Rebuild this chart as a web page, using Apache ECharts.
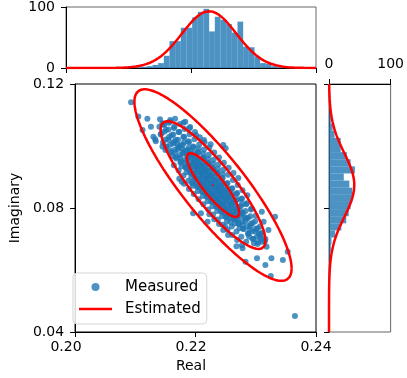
<!DOCTYPE html>
<html>
<head>
<meta charset="utf-8">
<script src="https://cdn.jsdelivr.net/npm/echarts@6/dist/echarts.min.js"></script>
<style>
html, body { margin: 0; padding: 0; background: #fff; }
#chart { width: 407px; height: 378px; }
</style>
</head>
<body>
<div id="chart"></div>
<script>
// measured points [Real, Imaginary]
var measured = [
  [0.2093,0.1141],[0.2105,0.1095],[0.2120,0.1088],[0.2112,0.1052],[0.2126,0.1062],[0.2133,0.1022],[0.2134,0.1015],
  [0.2145,0.1073],[0.2158,0.1084],[0.2180,0.1075],[0.2150,0.0987],[0.2225,0.1006],[0.2246,0.1003],[0.2177,0.0885],
  [0.2196,0.0783],[0.2209,0.0783],[0.2220,0.0756],[0.2246,0.0729],[0.2254,0.0713],[0.2268,0.0677],[0.2278,0.0670],
  [0.2310,0.0788],[0.2313,0.0756],[0.2321,0.0729],[0.2305,0.0718],[0.2332,0.0772],[0.2283,0.0627],[0.2302,0.0638],
  [0.2316,0.0616],[0.2326,0.0638],[0.2325,0.0581],[0.2353,0.0659],[0.2345,0.0632],[0.2365,0.0452],
  [0.2190,0.1057],[0.2201,0.1035],[0.2214,0.1019],[0.2250,0.0993],[0.2145,0.0998],[0.2130,0.1030],
  [0.2297,0.0686],[0.2249,0.0740],[0.2289,0.0707],[0.2310,0.0701],[0.2268,0.0761],
  [0.2143,0.1040],[0.2148,0.1068],[0.2146,0.1011],
  [0.2151,0.1052],[0.2155,0.1020],[0.2152,0.0998],[0.2156,0.1075],
  [0.2160,0.1035],[0.2163,0.1008],[0.2159,0.0985],[0.2164,0.1058],[0.2162,0.0968],
  [0.2167,0.1020],[0.2171,0.0990],[0.2168,0.0960],[0.2172,0.1045],[0.2170,0.1005],[0.2166,0.0978],
  [0.2175,0.1002],[0.2179,0.0975],[0.2176,0.0950],[0.2180,0.1030],[0.2178,0.0990],[0.2174,0.0962],[0.2181,0.1012],[0.2177,0.0935],
  [0.2183,0.0985],[0.2187,0.0958],[0.2184,0.0932],[0.2188,0.1015],[0.2186,0.0970],[0.2182,0.0945],[0.2189,0.0995],[0.2185,0.0915],[0.2187,0.0940],
  [0.2191,0.0968],[0.2195,0.0942],[0.2192,0.0915],[0.2196,0.0998],[0.2194,0.0955],[0.2190,0.0928],[0.2197,0.0978],[0.2193,0.0900],[0.2195,0.0935],[0.2191,0.0985],[0.2194,0.0880],
  [0.2199,0.0950],[0.2203,0.0925],[0.2200,0.0898],[0.2204,0.0980],[0.2202,0.0938],[0.2198,0.0912],[0.2205,0.0960],[0.2201,0.0885],[0.2203,0.0915],[0.2199,0.0968],[0.2202,0.0870],[0.2200,0.0932],
  [0.2207,0.0935],[0.2211,0.0908],[0.2208,0.0882],[0.2212,0.0962],[0.2210,0.0920],[0.2206,0.0895],[0.2213,0.0945],[0.2209,0.0868],[0.2211,0.0898],[0.2207,0.0952],[0.2210,0.0855],[0.2208,0.0915],[0.2212,0.0878],
  [0.2215,0.0918],[0.2219,0.0892],[0.2216,0.0865],[0.2220,0.0945],[0.2218,0.0905],[0.2214,0.0878],[0.2221,0.0930],[0.2217,0.0850],[0.2219,0.0882],[0.2215,0.0935],[0.2218,0.0838],[0.2216,0.0898],[0.2220,0.0862],[0.2214,0.0960],
  [0.2223,0.0902],[0.2227,0.0875],[0.2224,0.0848],[0.2228,0.0928],[0.2226,0.0888],[0.2222,0.0862],[0.2229,0.0912],[0.2225,0.0835],[0.2227,0.0865],[0.2223,0.0918],[0.2226,0.0822],[0.2224,0.0880],[0.2228,0.0845],[0.2222,0.0942],
  [0.2231,0.0885],[0.2235,0.0858],[0.2232,0.0832],[0.2236,0.0912],[0.2234,0.0872],[0.2230,0.0845],[0.2237,0.0895],[0.2233,0.0818],[0.2235,0.0848],[0.2231,0.0902],[0.2234,0.0805],[0.2232,0.0865],[0.2236,0.0830],[0.2230,0.0925],
  [0.2239,0.0868],[0.2243,0.0842],[0.2240,0.0815],[0.2244,0.0895],[0.2242,0.0855],[0.2238,0.0828],[0.2245,0.0880],[0.2241,0.0800],[0.2243,0.0832],[0.2239,0.0885],[0.2242,0.0790],[0.2240,0.0850],[0.2244,0.0812],
  [0.2247,0.0852],[0.2251,0.0825],[0.2248,0.0798],[0.2252,0.0878],[0.2250,0.0838],[0.2246,0.0812],[0.2253,0.0862],[0.2249,0.0785],[0.2251,0.0815],[0.2247,0.0870],[0.2250,0.0772],[0.2248,0.0835],
  [0.2255,0.0835],[0.2259,0.0808],[0.2256,0.0782],[0.2260,0.0862],[0.2258,0.0822],[0.2254,0.0795],[0.2261,0.0845],[0.2257,0.0768],[0.2259,0.0798],[0.2255,0.0852],[0.2258,0.0755],
  [0.2263,0.0818],[0.2267,0.0792],[0.2264,0.0765],[0.2268,0.0845],[0.2266,0.0805],[0.2262,0.0778],[0.2269,0.0828],[0.2265,0.0750],[0.2267,0.0782],
  [0.2271,0.0802],[0.2275,0.0775],[0.2272,0.0748],[0.2276,0.0828],[0.2274,0.0790],[0.2270,0.0762],[0.2277,0.0812],[0.2273,0.0735],
  [0.2279,0.0785],[0.2283,0.0758],[0.2280,0.0732],[0.2284,0.0812],[0.2282,0.0770],[0.2278,0.0745],
  [0.2287,0.0768],[0.2291,0.0742],[0.2288,0.0718],[0.2292,0.0795],[0.2290,0.0730],
  [0.2295,0.0752],[0.2299,0.0725],[0.2296,0.0700],[0.2300,0.0775],
  [0.2303,0.0735],[0.2307,0.0708],[0.2304,0.0690],
  [0.2311,0.0720],[0.2315,0.0692],
  [0.2140,0.1062],[0.2142,0.1037],[0.2141,0.1086],
  [0.2148,0.1046],[0.2150,0.1021],[0.2147,0.1070],[0.2151,0.0997],
  [0.2156,0.1029],[0.2158,0.1004],[0.2155,0.1053],[0.2159,0.0980],[0.2157,0.1078],
  [0.2164,0.1013],[0.2166,0.0988],[0.2163,0.1037],[0.2167,0.0964],[0.2165,0.1062],[0.2164,0.0938],[0.2166,0.1088],
  [0.2172,0.0996],[0.2174,0.0971],[0.2171,0.1020],[0.2175,0.0947],[0.2173,0.1045],[0.2172,0.0921],[0.2174,0.1071],[0.2173,0.0894],
  [0.2180,0.0980],[0.2182,0.0955],[0.2179,0.1004],[0.2183,0.0931],[0.2181,0.1029],[0.2180,0.0905],[0.2182,0.1055],[0.2181,0.0878],[0.2183,0.1078],
  [0.2188,0.0963],[0.2190,0.0938],[0.2187,0.0987],[0.2191,0.0914],[0.2189,0.1012],[0.2188,0.0888],[0.2190,0.1038],[0.2189,0.0861],[0.2191,0.1061],[0.2187,0.0926],[0.2190,0.0974],
  [0.2196,0.0947],[0.2198,0.0922],[0.2195,0.0971],[0.2199,0.0898],[0.2197,0.0996],[0.2196,0.0872],[0.2198,0.1022],[0.2197,0.0845],[0.2199,0.1045],[0.2195,0.0910],[0.2198,0.0958],[0.2196,0.0885],
  [0.2204,0.0930],[0.2206,0.0905],[0.2203,0.0954],[0.2207,0.0881],[0.2205,0.0979],[0.2204,0.0855],[0.2206,0.1005],[0.2205,0.0828],[0.2207,0.1028],[0.2203,0.0893],[0.2206,0.0941],[0.2204,0.0868],[0.2205,0.0991],
  [0.2212,0.0914],[0.2214,0.0889],[0.2211,0.0938],[0.2215,0.0865],[0.2213,0.0963],[0.2212,0.0839],[0.2214,0.0989],[0.2213,0.0812],[0.2215,0.1012],[0.2211,0.0877],[0.2214,0.0925],[0.2212,0.0852],[0.2213,0.0975],
  [0.2220,0.0897],[0.2222,0.0872],[0.2219,0.0921],[0.2223,0.0848],[0.2221,0.0946],[0.2220,0.0822],[0.2222,0.0972],[0.2221,0.0795],[0.2223,0.0995],[0.2219,0.0860],[0.2222,0.0908],[0.2220,0.0835],[0.2221,0.0958],[0.2223,0.0780],
  [0.2228,0.0881],[0.2230,0.0856],[0.2227,0.0905],[0.2231,0.0832],[0.2229,0.0930],[0.2228,0.0806],[0.2230,0.0956],[0.2229,0.0779],[0.2231,0.0979],[0.2227,0.0844],[0.2230,0.0892],[0.2228,0.0819],[0.2229,0.0942],[0.2231,0.0764],
  [0.2236,0.0865],[0.2238,0.0840],[0.2235,0.0889],[0.2239,0.0816],[0.2237,0.0914],[0.2236,0.0790],[0.2238,0.0940],[0.2237,0.0763],[0.2239,0.0963],[0.2235,0.0828],[0.2238,0.0876],[0.2236,0.0803],[0.2237,0.0926],[0.2239,0.0748],
  [0.2244,0.0848],[0.2246,0.0823],[0.2243,0.0872],[0.2247,0.0799],[0.2245,0.0897],[0.2244,0.0773],[0.2246,0.0923],[0.2245,0.0746],[0.2247,0.0946],[0.2243,0.0811],[0.2246,0.0859],[0.2244,0.0786],[0.2245,0.0909],
  [0.2252,0.0832],[0.2254,0.0807],[0.2251,0.0856],[0.2255,0.0783],[0.2253,0.0881],[0.2252,0.0757],[0.2254,0.0907],[0.2253,0.0730],[0.2255,0.0930],[0.2251,0.0795],[0.2254,0.0843],[0.2252,0.0770],
  [0.2260,0.0815],[0.2262,0.0790],[0.2259,0.0839],[0.2263,0.0766],[0.2261,0.0864],[0.2260,0.0740],[0.2262,0.0890],[0.2261,0.0713],[0.2263,0.0913],[0.2259,0.0778],[0.2262,0.0826],
  [0.2268,0.0799],[0.2270,0.0774],[0.2267,0.0823],[0.2271,0.0750],[0.2269,0.0848],[0.2268,0.0724],[0.2270,0.0874],[0.2269,0.0697],[0.2271,0.0897],
  [0.2276,0.0782],[0.2278,0.0757],[0.2275,0.0806],[0.2279,0.0733],[0.2277,0.0831],[0.2276,0.0707],[0.2278,0.0857],[0.2277,0.0680],
  [0.2284,0.0766],[0.2286,0.0741],[0.2283,0.0790],[0.2287,0.0717],[0.2285,0.0815],[0.2284,0.0691],[0.2286,0.0841],
  [0.2292,0.0749],[0.2294,0.0724],[0.2291,0.0773],[0.2295,0.0700],[0.2293,0.0798],
  [0.2300,0.0733],[0.2302,0.0708],[0.2299,0.0757],[0.2303,0.0684],
  [0.2308,0.0716],[0.2310,0.0691],[0.2307,0.0740],
  [0.2316,0.0700],[0.2318,0.0675]
];

// 上方直方图 (Real)
var topBinStart = 0.2093, topBinWidth = 0.000907;
var topCounts = [1,0,1,2,3,5,8,20,44,44,66,66,83,92,97,60,84,79,72,58,76,35,34,19,8,7,3,1,0,1];
// 右侧直方图 (Imaginary), from bottom
var rightBinStart = 0.0452, rightBinWidth = 0.002297;
var rightCounts = [1,0,0,0,0,1,1,1,2,3,4,10,20,28,32,35,38,38,33,24,42,35,29,19,19,9,6,3,2,1];

var xTicks = [0.20, 0.22, 0.24];
var yTicks = [0.04, 0.08, 0.12];
var countTicks = [0, 100];

// estimated gaussian
var meanX = 0.2229, meanY = 0.0874, sdX = 0.00435, sdY = 0.0103, rho = -0.87;
var topPeak = 93, rightPeak = 41;
var sigmaLevels = [1, 2, 3];

var FONT = 'DejaVu Sans';

function ellipse(k) {
  var pts = [];
  for (var i = 0; i <= 240; i++) {
    var t = i / 240 * Math.PI * 2;
    pts.push([meanX + k * sdX * Math.cos(t),
              meanY + k * sdY * (rho * Math.cos(t) + Math.sqrt(1 - rho * rho) * Math.sin(t))]);
  }
  return pts;
}
var topCurve = [], rightCurve = [];
for (var i = 0; i <= 200; i++) {
  var x = xTicks[0] + (xTicks[2] - xTicks[0]) * i / 200;
  topCurve.push([x, topPeak * Math.exp(-0.5 * Math.pow((x - meanX) / sdX, 2))]);
  var y = yTicks[0] + (yTicks[2] - yTicks[0]) * i / 200;
  rightCurve.push([rightPeak * Math.exp(-0.5 * Math.pow((y - meanY) / sdY, 2)), y]);
}
var topBars = topCounts.map(function (c, i) {
  return [topBinStart + i * topBinWidth, topBinStart + (i + 1) * topBinWidth, c];
});
var rightBars = rightCounts.map(function (c, i) {
  return [rightBinStart + i * rightBinWidth, rightBinStart + (i + 1) * rightBinWidth, c];
});

var blue = 'rgba(31,119,180,0.8)';
var lbl = { fontFamily: FONT, fontSize: 14, color: '#000' };
var tick = { show: true, length: 5, lineStyle: { color: '#000' } };
var line = { show: true, onZero: false, lineStyle: { color: '#000' } };
var fmt2 = function (v) { return v.toFixed(2); };

var myChart = echarts.init(document.getElementById('chart'));
var option = {
  animation: false,
  grid: [
    { left: 66, top: 6, width: 250, height: 62, show: true, borderColor: '#666', borderWidth: 1 },
    { left: 66, top: 84, width: 250, height: 248, show: true, borderColor: '#000', borderWidth: 1 },
    { left: 329, top: 84, width: 63, height: 248, show: true, borderColor: '#666', borderWidth: 1 },
    // same box as the main plot, only carries the Real tick labels
    { left: 66, top: 84, width: 250, height: 248, show: false }
  ],
  xAxis: [
    { gridIndex: 0, type: 'value', min: xTicks[0], max: xTicks[2], interval: 0.02,
      axisLine: line, axisTick: tick, axisLabel: { show: false }, splitLine: { show: false } },
    { gridIndex: 1, type: 'value', min: xTicks[0], max: xTicks[2], interval: 0.02,
      axisLine: line, axisTick: tick, axisLabel: { show: false }, splitLine: { show: false } },
    { gridIndex: 2, type: 'value', position: 'top', min: countTicks[0], max: countTicks[1], interval: 100,
      axisLine: line, axisTick: tick, splitLine: { show: false },
      axisLabel: Object.assign({ margin: 13 }, lbl) },
    { gridIndex: 3, type: 'value', min: xTicks[0], max: xTicks[2], interval: 0.02,
      axisLine: { show: false }, axisTick: { show: false }, splitLine: { show: false },
      axisLabel: Object.assign({ margin: 11, formatter: fmt2 }, lbl),
      name: 'Real', nameLocation: 'middle', nameGap: 30, nameTextStyle: lbl }
  ],
  yAxis: [
    { gridIndex: 0, type: 'value', min: countTicks[0], max: countTicks[1], interval: 100,
      axisLine: line, axisTick: tick, splitLine: { show: false },
      axisLabel: Object.assign({ margin: 11 }, lbl) },
    { gridIndex: 1, type: 'value', min: yTicks[0], max: yTicks[2], interval: 0.04,
      axisLine: line, axisTick: tick, splitLine: { show: false },
      axisLabel: Object.assign({ margin: 11, formatter: fmt2 }, lbl),
      name: 'Imaginary', nameLocation: 'middle', nameGap: 47, nameTextStyle: lbl },
    { gridIndex: 2, type: 'value', min: yTicks[0], max: yTicks[2], interval: 0.04,
      axisLine: line, axisTick: tick, axisLabel: { show: false }, splitLine: { show: false } },
    { gridIndex: 3, type: 'value', min: yTicks[0], max: yTicks[2], show: false }
  ],
  legend: {
    orient: 'vertical', left: 73, top: 273,
    padding: [5, 6, 6, 6], itemGap: 4, itemWidth: 33, itemHeight: 8,
    borderColor: '#d5d5d5', borderWidth: 1, borderRadius: 4,
    backgroundColor: 'rgba(255,255,255,0.85)',
    textStyle: { fontFamily: FONT, fontSize: 15, color: '#000', lineHeight: 18, padding: [0, 0, 0, 8] },
    data: [
      { name: 'Measured', icon: 'circle' },
      { name: 'Estimated', icon: 'path://M0,0 L33,0 L33,2.5 L0,2.5 Z', itemStyle: { color: '#ff0000' } }
    ]
  },
  series: [
    { type: 'custom', xAxisIndex: 0, yAxisIndex: 0, data: topBars,
      renderItem: function (params, api) {
        var p0 = api.coord([api.value(0), api.value(2)]);
        var p1 = api.coord([api.value(1), 0]);
        return { type: 'rect', shape: { x: p0[0], y: p0[1], width: p1[0] - p0[0], height: p1[1] - p0[1] },
                 style: { fill: blue } };
      } },
    { type: 'line', xAxisIndex: 0, yAxisIndex: 0, data: topCurve, symbol: 'none',
      lineStyle: { color: '#ff0000', width: 2.5 }, z: 5 },
    { type: 'custom', xAxisIndex: 2, yAxisIndex: 2, data: rightBars,
      renderItem: function (params, api) {
        var p0 = api.coord([api.value(2), api.value(1)]);
        var p1 = api.coord([0, api.value(0)]);
        return { type: 'rect', shape: { x: p1[0], y: p0[1], width: p0[0] - p1[0], height: p1[1] - p0[1] },
                 style: { fill: blue } };
      } },
    { type: 'line', xAxisIndex: 2, yAxisIndex: 2, data: rightCurve, symbol: 'none',
      lineStyle: { color: '#ff0000', width: 2.5 }, z: 5 },
    { name: 'Measured', type: 'scatter', xAxisIndex: 1, yAxisIndex: 1, data: measured,
      symbolSize: 6, itemStyle: { color: '#1f77b4', opacity: 0.8 } },
    { name: 'center', type: 'scatter', xAxisIndex: 1, yAxisIndex: 1, data: [[meanX, meanY]],
      symbolSize: 2, itemStyle: { color: '#ff0000' }, z: 6 }
  ]
};
sigmaLevels.forEach(function (k) {
  option.series.push({ name: 'Estimated', type: 'line', xAxisIndex: 1, yAxisIndex: 1,
    data: ellipse(k), symbol: 'none', itemStyle: { color: '#ff0000' },
    lineStyle: { color: '#ff0000', width: 2.5 }, z: 5 });
});
myChart.setOption(option);
</script>
</body>
</html>
